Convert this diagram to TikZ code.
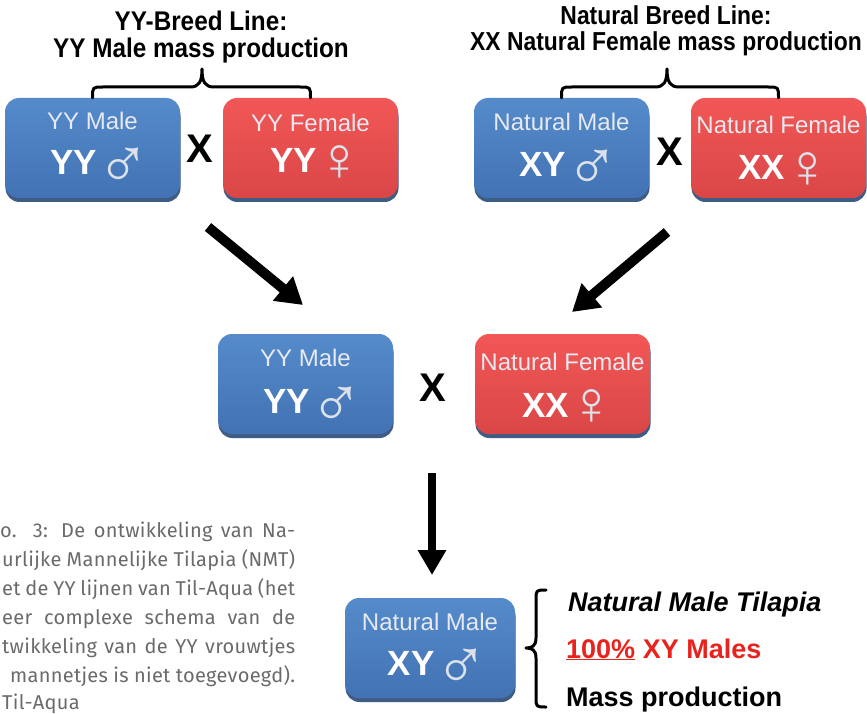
\documentclass[tikz,border=0pt]{standalone}
\usepackage{fontspec}
\setmainfont{Liberation Sans}
\newfontfamily\narrowbf[FakeStretch=0.9]{Liberation Sans}
\newfontfamily\narrowbfb[FakeStretch=0.88]{Liberation Sans}
\newfontfamily\symfont{Liberation Sans}
\newfontfamily\capfont[LetterSpace=1.5]{Fira Sans}
\usetikzlibrary{arrows.meta,shadows}

\definecolor{bluetop}{HTML}{558BCB}
\definecolor{bluebot}{HTML}{4272B4}
\definecolor{redtop}{HTML}{F25757}
\definecolor{redbot}{HTML}{DA4646}
\definecolor{bshadow}{HTML}{2A4A78}
\definecolor{rshadow}{HTML}{2A4A78}
\definecolor{lblgray}{HTML}{E6EAF0}
\definecolor{symgray}{HTML}{DCE2EA}
\definecolor{capgray}{HTML}{6A6A6A}
\definecolor{txtred}{HTML}{E8231E}

\newcommand{\malesym}{\rlap{\raisebox{-14pt}[0pt][0pt]{\symfont\mdseries\fontsize{72}{72}\selectfont\color{symgray}♂}}\kern41pt\relax}
\newcommand{\femalesym}{\rlap{\raisebox{-7.5pt}[0pt][0pt]{\symfont\mdseries\fontsize{62}{62}\selectfont\color{symgray}♀}}\kern34pt\relax}

\tikzset{
  boxbase/.style={rectangle, rounded corners=14pt, minimum width=175pt, minimum height=100pt, inner sep=0pt, draw=none},
  mbox/.style={boxbase, top color=bluetop, bottom color=bluebot,
    drop shadow={shadow xshift=0.5pt, shadow yshift=-4pt, opacity=0.9, fill=bshadow}},
  fbox/.style={boxbase, top color=redtop, bottom color=redbot,
    drop shadow={shadow xshift=0.5pt, shadow yshift=-4pt, opacity=0.9, fill=rshadow}},
  lbl/.style={inner sep=0pt, text=lblgray, font=\fontsize{24}{24}\selectfont},
  gen/.style={inner sep=0pt, anchor=base, text=white, font=\bfseries\fontsize{35}{35}\selectfont},
  cross/.style={inner sep=0pt, text=black, font=\bfseries\fontsize{40}{40}\selectfont},
  ttlA/.style={inner sep=0pt, anchor=base, font=\narrowbf\bfseries\fontsize{27}{27}\selectfont},
  ttlB/.style={inner sep=0pt, anchor=base, font=\narrowbfb\bfseries\fontsize{26}{26}\selectfont},
  bracestyle/.style={draw=black, line width=3pt, line cap=round, line join=round},
  bigarrow/.style={line width=10pt, -{Triangle[width=30pt,length=26pt]}},
  downarrow/.style={line width=8pt, -{Triangle[width=27pt,length=25pt]}},
  restxt/.style={inner sep=0pt, anchor=base west, font=\bfseries\fontsize{27}{27}\selectfont},
  captxt/.style={inner sep=0pt, anchor=base west, text=capgray, font=\capfont\fontsize{20}{20}\selectfont}
}

\begin{document}
\begin{tikzpicture}[x=1pt,y=-1pt]
\useasboundingbox (0,0) rectangle (867,714);
\clip (0,0) rectangle (867,714);

% titles
\node[ttlA] (t1a) at (201,31) {YY-Breed Line:};
\node[ttlA] (t1b) at (201,58) {YY Male mass production};
\node[ttlB] (t2a) at (666,25) {Natural Breed Line:};
\node[ttlB] (t2b) at (666,51) {XX Natural Female mass production};

% top row boxes
\node[mbox] (ym1) at (92.5,148) {};
\node[lbl] (ym1l) at ([yshift=27pt]ym1.center) {YY Male};
\node[gen] (ym1g) at ([xshift=1.5pt,yshift=-27pt]ym1.center) {YY\malesym};

\node[fbox] (yf1) at (310.5,148) {};
\node[lbl] (yf1l) at ([yshift=25pt]yf1.center) {YY Female};
\node[gen] (yf1g) at ([xshift=0pt,yshift=-25pt]yf1.center) {YY\femalesym};

\node[mbox] (nm1) at (561.5,148) {};
\node[lbl] (nm1l) at ([yshift=26pt]nm1.center) {Natural Male};
\node[gen] (nm1g) at ([xshift=1.5pt,yshift=-29pt]nm1.center) {XY\malesym};

\node[fbox] (nf1) at (778.5,148) {};
\node[lbl] (nf1l) at ([yshift=23pt]nf1.center) {Natural Female};
\node[gen] (nf1g) at ([xshift=0pt,yshift=-32pt]nf1.center) {XX\femalesym};

\node[cross] (x1) at (200,149) {X};
\node[cross] (x2) at (670,152) {X};

% braces
\draw[bracestyle] (ym1.north) .. controls (92.5,87) and (92.5,87) .. (103,87) -- (190,87)
  .. controls (199,87) and (202,82) .. (202,69)
  .. controls (202,82) and (205,87) .. (214,87) -- (300,87)
  .. controls (310.5,87) and (310.5,87) .. (yf1.north);
\draw[bracestyle] (nm1.north) .. controls (561.5,87) and (561.5,87) .. (572,87) -- (655,87)
  .. controls (664,87) and (667,82) .. (667,69)
  .. controls (667,82) and (670,87) .. (679,87) -- (768,87)
  .. controls (778.5,87) and (778.5,87) .. (nf1.north);

% arrows
\coordinate (a1s) at (208,227);
\coordinate (a1e) at (303,305);
\coordinate (a2s) at (667,232);
\coordinate (a2e) at (572,312);
\draw[bigarrow] (a1s) -- (a1e);
\draw[bigarrow] (a2s) -- (a2e);

% middle row
\node[mbox] (ym2) at (305.5,384) {};
\node[lbl] (ym2l) at ([yshift=26pt]ym2.center) {YY Male};
\node[gen] (ym2g) at ([xshift=1.5pt,yshift=-29pt]ym2.center) {YY\malesym};

\node[fbox] (nf2) at (562.5,384) {};
\node[lbl] (nf2l) at ([yshift=22pt]nf2.center) {Natural Female};
\node[gen] (nf2g) at ([xshift=0pt,yshift=-33pt]nf2.center) {XX\femalesym};

\node[cross] (x3) at (433,388) {X};

% down arrow
\coordinate (a3s) at (432,473);
\coordinate (a3e) at (432,575);
\draw[downarrow] (a3s) -- (a3e);

% bottom box
\node[mbox, minimum width=170pt] (nm3) at (430,648) {};
\node[lbl] (nm3l) at ([yshift=26pt]nm3.center) {Natural Male};
\node[gen] (nm3g) at ([xshift=1.5pt,yshift=-27pt]nm3.center) {XY\malesym};

% bottom brace
\coordinate (bb1) at (546,590);
\coordinate (bb2) at (546,707);
\draw[bracestyle] (bb1) .. controls (536,590) and (536,590) .. (536,600) -- (536,638)
  .. controls (536,646) and (532,648) .. (526,648)
  .. controls (532,648) and (536,650) .. (536,658) -- (536,697)
  .. controls (536,707) and (536,707) .. (bb2);

\node[restxt] (r1) at (568,611) {\itshape Natural Male Tilapia};
\node[restxt, text=txtred] (r2) at (566,658) {\underline{100\%} XY Males};
\node[restxt] (r3) at (566,706) {Mass production};

% caption (cut off at the left edge)
\node[captxt] (c1) at (0,537) {\makebox[295pt][s]{o. 3: De ontwikkeling van Na-}};
\node[captxt] (c2) at (2,566) {\makebox[293pt][s]{urlijke Mannelijke Tilapia (NMT)}};
\node[captxt] (c3) at (2,595) {\makebox[293pt][s]{et de YY lijnen van Til-Aqua (het}};
\node[captxt] (c4) at (2,624) {\makebox[293pt][s]{eer complexe schema van de}};
\node[captxt] (c5) at (2,653) {\makebox[293pt][s]{twikkeling van de YY vrouwtjes}};
\node[captxt] (c6) at (10,682) {\makebox[285pt][s]{mannetjes is niet toegevoegd).}};
\node[captxt] (c7) at (2,709) {Til-Aqua};
\end{tikzpicture}
\end{document}
